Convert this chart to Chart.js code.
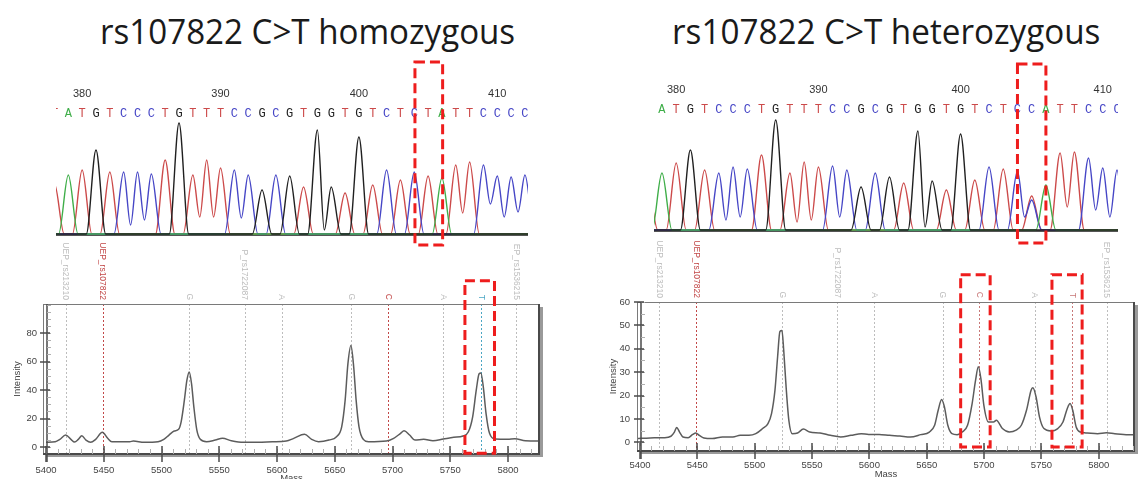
<!DOCTYPE html>
<html>
<head>
<meta charset="utf-8">
<script src="https://cdn.jsdelivr.net/npm/chart.js@4.4.1/dist/chart.umd.min.js"></script>
<style>
html,body{margin:0;padding:0;background:#fff;}
#wrap{position:relative;width:1143px;height:479px;overflow:hidden;}
.ttl{position:absolute;top:14px;font-family:"Open Sans";font-size:34px;line-height:34px;color:#1a1a1a;white-space:nowrap;transform-origin:0 0;}
canvas{position:absolute;}
</style>
</head>
<body>
<div id="wrap">
  <div class="ttl" id="t1" style="left:100px">rs107822 C&gt;T homozygous</div>
  <div class="ttl" id="t2" style="left:672px">rs107822 C&gt;T heterozygous</div>
  <canvas id="massL" width="571" height="239" style="left:0;top:240px"></canvas>
  <canvas id="massR" width="563" height="239" style="left:580px;top:240px"></canvas>
  <canvas id="chromL" width="571" height="195" style="left:0;top:60px"></canvas>
  <canvas id="chromR" width="563" height="195" style="left:580px;top:60px"></canvas>
</div>
<script>
// ---- data ----
// sanger reads, first base is position 378
const seqStart = 378;
const seqL = 'TATGTCCCTGTTTCCGCGTGGTGTCTCTATTCCCC';
const peakL = [50, 59, 64, 84, 62, 62, 62, 60, 74, 111, 59, 74, 66, 64, 59, 44, 59, 58, 47, 104,
               47, 41, 97, 49, 64, 54, 62, 58, 56, 69, 72, 69, 58, 57, 59];
// trough between base i and i+1 (only used when both are the same base)
const valleyL = [0, 0, 0, 0, 0, 9, 14, 0, 0, 0, 17, 17, 0, 16, 0, 0, 0, 0, 0, 4,
                 0, 0, 0, 0, 0, 0, 0, 0, 0, 21, 0, 30, 17, 22];
const seqR = 'TATGTCCCTGTTTCCGCGTGGTGTCTCCATTCCCC';
const peakR = [45, 57, 67, 80, 60, 57, 63, 61, 75, 110, 57, 68, 63, 64, 60, 43, 57, 53, 47, 99,
               49, 40, 96, 50, 63, 61, 59, 30, 45, 77, 78, 72, 62, 60, 60];
const valleyR = [0, 0, 0, 0, 0, 10, 13, 0, 0, 0, 8, 10, 0, 13, 0, 0, 0, 0, 0, 3,
                 0, 0, 0, 0, 0, 0, 13, 0, 0, 23, 0, 20, 13, 15];
// second (overlapping) peak at the heterozygous site
const hetPosR = [405];
const hetBaseR = ['T'];
const hetPeakR = [34];
const seqNumbers = [380, 390, 400, 410];

// mass spectra
const massL = [5400, 5408, 5412, 5417, 5421.6, 5424.7, 5428, 5431, 5434.6, 5438.6, 5443, 5448.8, 5453.4, 5457,
  5472.5, 5475.6, 5485, 5497, 5502, 5506.5, 5511, 5514.8, 5517, 5519.8, 5522, 5524, 5526, 5528, 5530.6, 5533.6,
  5539, 5546.6, 5552.8, 5560.5, 5571, 5583.6, 5596, 5608, 5614.5, 5623.8, 5630, 5636, 5645, 5651.5, 5656, 5659,
  5661.4, 5664, 5666.4, 5668.5, 5671, 5674.7, 5679.3, 5694.7, 5701, 5707, 5710, 5714.8, 5719.4, 5727, 5735, 5744,
  5753, 5761, 5765.7, 5769.4, 5772.5, 5775, 5776.5, 5778.6, 5781, 5784, 5789, 5799.7, 5806, 5815, 5826, 5830];
const intL = [3.3, 3.7, 5.4, 8.4, 5.4, 3.5, 5.4, 7.9, 4.9, 3.3, 5.4, 10.3, 6.1, 3.7,
  3.7, 4.2, 3.3, 3.7, 5.4, 8.4, 11.2, 12.4, 17.7, 32.9, 46.9, 52.7, 44.5, 28.2, 11.9, 5.4,
  3.7, 4.9, 6.1, 4.4, 3.3, 3.3, 3.7, 4.2, 6.1, 8.9, 5.4, 3.7, 4.9, 7.2, 14.2, 32.9,
  58.5, 71.3, 56.2, 32.9, 14.2, 5.4, 3.7, 4.2, 6.1, 9.6, 11.4, 8.4, 4.9, 5.4, 4.4, 5.6,
  6.8, 7.7, 10.7, 21.2, 39.9, 51.5, 52, 42.2, 23.5, 9.6, 5.6, 5.4, 5.8, 4.4, 4.2, 4.2];
const massR = [5397, 5408.8, 5420.9, 5427, 5430, 5432, 5434.5, 5437.5, 5442, 5446, 5448.7, 5451.7, 5455.7, 5463,
  5472, 5481, 5487.4, 5495, 5501, 5507, 5511.6, 5514.7, 5517.7, 5520, 5522, 5523.8, 5525.3, 5527.4, 5529.8, 5532.8,
  5537.4, 5542.5, 5548, 5557, 5566, 5575, 5584, 5593, 5599.4, 5608.5, 5617.6, 5626.6, 5635.7, 5644.8, 5652.3,
  5656.9, 5660, 5663, 5665.4, 5668.4, 5672, 5676.5, 5681, 5685.6, 5689.6, 5692.6, 5695, 5697.4, 5699.8, 5703.8,
  5708.3, 5710.7, 5716, 5722, 5728, 5732.5, 5737, 5741, 5742.5, 5745.3, 5748.3, 5752.2, 5758.3, 5764.3, 5768.8,
  5772.5, 5775, 5777.3, 5780.3, 5784, 5790, 5799, 5806.7, 5814, 5825.7, 5832];
const intR = [1.6, 1.9, 2.0, 2.6, 4.4, 6.3, 4.4, 2.3, 2.0, 3.4, 4.0, 3.0, 1.9, 1.6,
  2.3, 2.3, 3.0, 3.0, 3.7, 5.9, 8.0, 12.3, 22.3, 36.6, 47.4, 47.8, 39.5, 23.7, 9.4, 3.7,
  4.0, 5.7, 4.4, 4.0, 3.0, 2.3, 3.0, 3.7, 3.4, 3.4, 3.0, 2.7, 2.3, 3.3, 4.4,
  7.3, 13.7, 18.3, 15.2, 7.3, 3.7, 3.3, 4.4, 7.3, 16.6, 26.6, 32.3, 26.6, 15.9, 8.7,
  8.7, 9.4, 5.9, 4.4, 5.2, 7.3, 13.7, 22.3, 23.3, 19.5, 10.9, 5.9, 4.9, 5.9, 8.7,
  14.4, 16.6, 13.7, 6.6, 4.4, 4.0, 3.7, 4.1, 3.7, 3.3, 3.3];
const markerMass = [5417, 5449, 5524, 5572, 5604, 5664, 5696, 5744, 5777, 5807];
const markerText = ['UEP_rs213210', 'UEP_rs107822', 'G', 'P_rs1722087', 'A', 'G', 'C', 'A', 'T', 'EP_rs1536215'];
const massTicks = [5400, 5450, 5500, 5550, 5600, 5650, 5700, 5750, 5800];
const intTicksL = [0, 20, 40, 60, 80];
const intTicksR = [0, 10, 20, 30, 40, 50, 60];

// ---- styles ----
const baseColors = {A: '#3fae49', C: '#4646c6', G: '#202020', T: '#cc4a4a'};
const grey = '#bdbdbd', red = '#c24848', pink = '#c87878', teal = '#4aa6c4';
const markerColL = [grey, red, grey, grey, grey, grey, red, grey, teal, grey];
const markerColR = [grey, red, grey, grey, grey, grey, pink, grey, pink, grey];
const peakFoot = 0.7; // half width of a peak's foot, in bases

function dashBox(ctx, x1, y1, x2, y2) {
  ctx.save();
  ctx.strokeStyle = '#ee1d1d';
  ctx.lineWidth = 3;
  ctx.setLineDash([10, 5]);
  ctx.strokeRect(x1, y1, x2 - x1, y2 - y1);
  ctx.restore();
}

//chromatogram: baseline, numbers, base calls, box
const chromPlugin = {
  id: 'chrom',
  beforeDatasetsDraw(chart, args, o) {
    const {ctx, chartArea: a, scales: {y}} = chart;
    const y0 = y.getPixelForValue(0);
    ctx.save();
    ctx.strokeStyle = '#555';
    ctx.lineWidth = 2;
    ctx.beginPath(); ctx.moveTo(a.left, y0 + 1); ctx.lineTo(a.right, y0 + 1); ctx.stroke();
    ctx.restore();
  },
  afterDraw(chart, args, o) {
    const {ctx, chartArea: a, scales: {x, y}} = chart;
    ctx.save();
    ctx.beginPath(); ctx.rect(a.left, 0, a.right - a.left, chart.height); ctx.clip();
    ctx.textAlign = 'center';
    ctx.textBaseline = 'middle';
    ctx.font = '11px "Liberation Sans"';
    ctx.fillStyle = '#333';
    seqNumbers.forEach(n => ctx.fillText(String(n), x.getPixelForValue(n), a.top - 6));
    ctx.font = '12px "Liberation Mono"';
    for (let i = 0; i < o.seq.length; i++) {
      ctx.fillStyle = baseColors[o.seq[i]];
      ctx.fillText(o.seq[i], x.getPixelForValue(seqStart + i), a.top + 13.5);
    }
    ctx.restore();
    const b = o.box;
    dashBox(ctx, x.getPixelForValue(b[0]), y.getPixelForValue(b[2]), x.getPixelForValue(b[1]), y.getPixelForValue(b[3]));
  }
};

// points of one dye trace: peak tops, shared troughs, and feet on the baseline
function traceData(seq, peaks, valleys, hetPos, hetBase, hetPeak, b) {
  const n = seq.length;
  const height = i => {
    let v = seq[i] === b ? peaks[i] : 0;
    hetPos.forEach((p, k) => { if (p === seqStart + i && hetBase[k] === b) v = hetPeak[k]; });
    return v;
  };
  const pts = [{x: seqStart - 1, y: 0}];
  for (let i = 0; i < n; i++) {
    const h = height(i);
    if (!h) continue;
    const pos = seqStart + i;
    if (i === 0 || !height(i - 1)) pts.push({x: pos - peakFoot, y: 0});
    pts.push({x: pos, y: h});
    if (i < n - 1 && height(i + 1)) pts.push({x: pos + 0.5, y: valleys[i]});
    else pts.push({x: pos + peakFoot, y: 0});
  }
  pts.push({x: seqStart + n, y: 0});
  return pts;
}

function chromChart(id, seq, peaks, valleys, hetPos, hetBase, hetPeak, cfg) {
  const datasets = ['G', 'A', 'C', 'T'].map(b => ({
    label: b,
    data: traceData(seq, peaks, valleys, hetPos, hetBase, hetPeak, b),
    borderColor: baseColors[b],
    borderWidth: 1.4,
    pointRadius: 0,
    cubicInterpolationMode: 'monotone',
    fill: false
  }));
  return new Chart(document.getElementById(id), {
    type: 'line',
    data: {datasets},
    options: {
      responsive: false, animation: false, events: [],
      layout: {padding: cfg.pad},
      plugins: {legend: {display: false}, tooltip: {enabled: false}, chrom: {seq: seq, box: cfg.box}},
      scales: {
        x: {type: 'linear', min: cfg.xmin, max: cfg.xmax, display: false},
        y: {min: -4, max: 134, display: false}
      }
    },
    plugins: [chromPlugin]
  });
}

//mass spectrum: frame, ticks, marker lines and labels
const massPlugin = {
  id: 'mass',
  beforeDatasetsDraw(chart, args, o) {
    const {ctx, chartArea: a, scales: {x}} = chart;
    ctx.save();
    ctx.lineWidth = 1;
    ctx.setLineDash([2, 2]);
    markerMass.forEach((m, i) => {
      const px = Math.round(x.getPixelForValue(m)) + 0.5;
      ctx.strokeStyle = o.colors[i];
      ctx.beginPath(); ctx.moveTo(px, a.top); ctx.lineTo(px, a.bottom); ctx.stroke();
    });
    ctx.restore();
  },
  afterDraw(chart, args, o) {
    const {ctx, chartArea: a, scales: {x, y}} = chart;
    ctx.save();
    // frame + shadow
    ctx.fillStyle = '#9a9a9a';
    ctx.fillRect(a.right, a.top + 3, 3, a.bottom - a.top);
    ctx.fillRect(a.left + 3, a.bottom, a.right - a.left, 3);
    ctx.strokeStyle = '#7a7a7a';
    ctx.lineWidth = 1;
    ctx.strokeRect(a.left + 0.5, a.top + 0.5, a.right - a.left - 1, a.bottom - a.top);
    ctx.strokeStyle = '#4a4a4a';
    ctx.lineWidth = 2;
    ctx.beginPath(); ctx.moveTo(a.left, a.bottom); ctx.lineTo(a.right, a.bottom); ctx.stroke();
    ctx.beginPath(); ctx.moveTo(a.right - 1, a.top); ctx.lineTo(a.right - 1, a.bottom); ctx.stroke();
    const ax = a.left + 4;
    ctx.lineWidth = 1.5;
    ctx.beginPath(); ctx.moveTo(ax, a.top); ctx.lineTo(ax, a.bottom + 8); ctx.stroke();
    // minor ticks
    ctx.strokeStyle = '#b0b0b0';
    ctx.lineWidth = 1;
    for (let v = massTicks[0]; v <= x.max; v += 10) {
      const px = Math.round(x.getPixelForValue(v)) + 0.5;
      ctx.beginPath(); ctx.moveTo(px, a.bottom - 5); ctx.lineTo(px, a.bottom); ctx.stroke();
    }
    for (let v = 0; v <= y.max; v += 5) {
      const py = Math.round(y.getPixelForValue(v)) + 0.5;
      ctx.beginPath(); ctx.moveTo(ax, py); ctx.lineTo(ax + 4, py); ctx.stroke();
    }
    // major ticks
    ctx.strokeStyle = '#4a4a4a';
    ctx.lineWidth = 1.5;
    massTicks.forEach(v => {
      const px = Math.round(x.getPixelForValue(v));
      ctx.beginPath(); ctx.moveTo(px, a.bottom - 8); ctx.lineTo(px, a.bottom + 8); ctx.stroke();
    });
    o.yTicks.forEach(v => {
      const py = Math.round(y.getPixelForValue(v));
      ctx.beginPath(); ctx.moveTo(ax - 7, py); ctx.lineTo(ax + 3, py); ctx.stroke();
    });
    // marker labels, rotated
    ctx.font = '8.5px "Liberation Sans"';
    ctx.textAlign = 'right';
    ctx.textBaseline = 'middle';
    markerMass.forEach((m, i) => {
      ctx.save();
      ctx.translate(x.getPixelForValue(m), a.top - 4);
      ctx.rotate(Math.PI / 2);
      ctx.fillStyle = o.colors[i];
      ctx.fillText(markerText[i], 0, 0);
      ctx.restore();
    });
    // axis titles
    ctx.fillStyle = '#444';
    ctx.font = '9.5px "Liberation Sans"';
    ctx.textAlign = 'center';
    ctx.fillText('Mass', (a.left + a.right) / 2, a.bottom + o.massDY);
    ctx.save();
    ctx.translate(o.intX, (a.top + a.bottom) / 2);
    ctx.rotate(-Math.PI / 2);
    ctx.fillText('Intensity', 0, 0);
    ctx.restore();
    ctx.restore();
    o.boxes.forEach(b => dashBox(ctx, x.getPixelForValue(b[0]), y.getPixelForValue(b[2]), x.getPixelForValue(b[1]), y.getPixelForValue(b[3])));
  }
};

function massChart(id, mass, inten, cfg) {
  const tickFont = {family: 'Liberation Sans', size: 9.5};
  return new Chart(document.getElementById(id), {
    type: 'line',
    data: {datasets: [{
      data: mass.map((m, i) => ({x: m, y: inten[i]})),
      borderColor: '#5c5c5c', borderWidth: 1.5, pointRadius: 0,
      cubicInterpolationMode: 'monotone', fill: false
    }]},
    options: {
      responsive: false, animation: false, events: [],
      layout: {padding: {left: 0, right: cfg.padR, top: cfg.padT, bottom: 0}},
      plugins: {
        legend: {display: false}, tooltip: {enabled: false},
        mass: {colors: cfg.colors, yTicks: cfg.yTicks, boxes: cfg.boxes, intX: cfg.intX, massDY: cfg.massDY}
      },
      scales: {
        x: {
          type: 'linear', min: cfg.xmin, max: cfg.xmax,
          grid: {display: false, drawTicks: false}, border: {display: false},
          afterBuildTicks: s => { s.ticks = massTicks.map(v => ({value: v})); },
          afterFit: s => { s.height = cfg.axH; },
          ticks: {autoSkip: false, maxRotation: 0, padding: cfg.xPad, font: tickFont, color: '#444', callback: v => String(v)}
        },
        y: {
          min: cfg.ymin, max: cfg.ymax,
          grid: {display: false, drawTicks: false}, border: {display: false},
          afterBuildTicks: s => { s.ticks = cfg.yTicks.map(v => ({value: v})); },
          afterFit: s => { s.width = cfg.axW; },
          ticks: {padding: cfg.yPad, font: tickFont, color: '#444', callback: v => String(v)}
        }
      }
    },
    plugins: [massPlugin]
  });
}

massChart('massL', massL, intL, {
  xmin: 5397.4, xmax: 5827.7, ymin: -4.9, ymax: 100.4, yTicks: intTicksL,
  padR: 31, padT: 64, axW: 43, axH: 25, xPad: 11, yPad: 6, intX: 17, massDY: 24,
  colors: markerColL, boxes: [[5762.7, 5788.3, 116.8, -4.4]]
});
massChart('massR', massR, intR, {
  xmin: 5397.4, xmax: 5831.6, ymin: -3.7, ymax: 60, yTicks: intTicksR,
  padR: 8, padT: 62, axW: 57, axH: 28, xPad: 9, yPad: 7, intX: 33, massDY: 23,
  colors: markerColR, boxes: [[5679.6, 5705.3, 71.7, -2.0], [5759.2, 5785.5, 71.7, -2.0]]
});
chromChart('chromL', seqL, peakL, valleyL, [], [], [], {
  pad: {left: 56, right: 43, top: 40, bottom: 17}, xmin: 378.11, xmax: 412.22, box: [404.05, 406.05, 172, -11]
});
chromChart('chromR', seqR, peakR, valleyR, hetPosR, hetBaseR, hetPeakR, {
  pad: {left: 74, right: 25, top: 36, bottom: 21}, xmin: 378.44, xmax: 411.07, box: [404.0, 406.0, 166, -13]
});

// titles: squeeze to the width of the original lettering
[['t1', 415], ['t2', 428]].forEach(([id, w]) => {
  const el = document.getElementById(id);
  el.style.transform = 'scaleX(' + (w / el.offsetWidth) + ')';
});
</script>
</body>
</html>
